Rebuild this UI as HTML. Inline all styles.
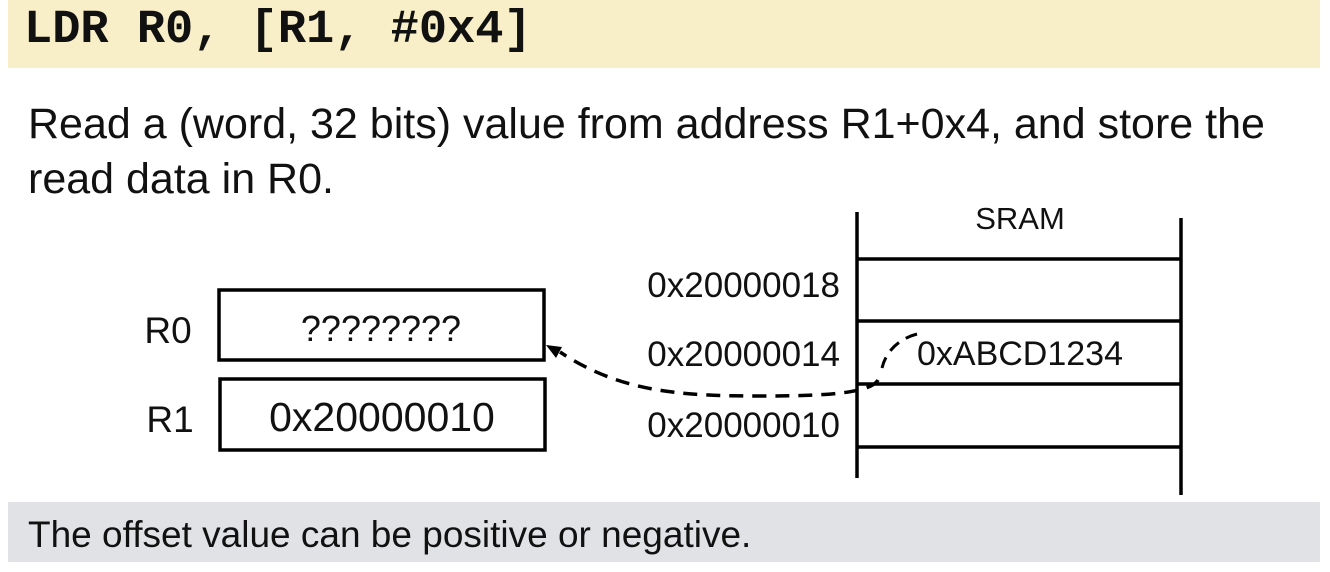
<!DOCTYPE html>
<html><head><style>
html,body{margin:0;padding:0;background:#fff;}
body{width:1330px;height:572px;position:relative;overflow:hidden;font-family:"Liberation Sans","DejaVu Sans",sans-serif;color:#111;}
.t{position:absolute;white-space:nowrap;}
</style></head><body>
<div style="position:absolute;left:8px;top:0;width:1312px;height:68px;background:#f8efc9;"></div>
<div class="t" style="left:24px;top:4px;font:bold 47px 'Liberation Mono',monospace;">LDR R0, [R1, #0x4]</div>
<div class="t" style="left:28px;top:97px;font-size:43px;line-height:55px;">Read a (word, 32 bits) value from address R1+0x4, and store the<br>read data in R0.</div>
<div style="position:absolute;left:8px;top:502px;width:1312px;height:60px;background:#e0e2e5;"></div>
<div class="t" style="left:28px;top:514px;font-size:37px;">The offset value can be positive or negative.</div>
<svg width="1330" height="572" style="position:absolute;left:0;top:0" font-family="Liberation Sans, sans-serif">
<g stroke="#000" stroke-width="3.5" fill="none">
<rect x="219" y="290" width="325" height="70"/>
<rect x="220" y="379" width="325" height="71"/>
<line x1="857" y1="212" x2="857" y2="478"/>
<line x1="1181" y1="218" x2="1181" y2="495"/>
<line x1="857" y1="259" x2="1181" y2="259"/>
<line x1="857" y1="321" x2="1181" y2="321"/>
<line x1="857" y1="384" x2="1181" y2="384"/>
<line x1="857" y1="447" x2="1181" y2="447"/>
<path d="M917,334 C895,340 885,355 882,368" stroke-dasharray="12,8" stroke-width="3"/>
<path d="M878,380 C870,394 820,396 760,396 C680,396 620,392 560,352" stroke-dasharray="14,9" stroke-width="3.5"/>
</g>
<polygon points="546,345 562,347 556,358" fill="#000"/>
<g fill="#111">
<text x="168" y="343" text-anchor="middle" font-size="37">R0</text>
<text x="170" y="432" text-anchor="middle" font-size="37">R1</text>
<text x="381" y="341" text-anchor="middle" font-size="36">????????</text>
<text x="382" y="431" text-anchor="middle" font-size="41">0x20000010</text>
<text x="840" y="297" text-anchor="end" font-size="35">0x20000018</text>
<text x="840" y="366" text-anchor="end" font-size="35">0x20000014</text>
<text x="840" y="437" text-anchor="end" font-size="35">0x20000010</text>
<text x="1020" y="229" text-anchor="middle" font-size="31">SRAM</text>
<text x="1020" y="365" text-anchor="middle" font-size="34">0xABCD1234</text>
</g>
</svg>
</body></html>
